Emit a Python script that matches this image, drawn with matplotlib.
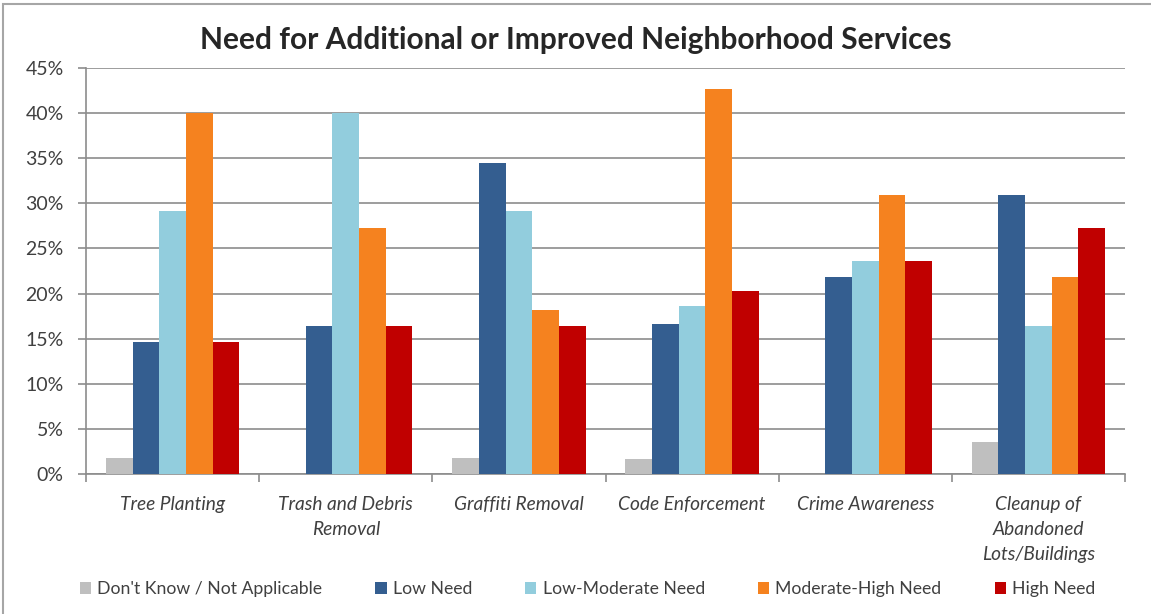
import matplotlib
matplotlib.use("Agg")
import matplotlib.pyplot as plt
import numpy as np
from matplotlib.patches import Rectangle

categories = ["Tree Planting", "Trash and Debris\nRemoval", "Graffiti Removal",
              "Code Enforcement", "Crime Awareness", "Cleanup of\nAbandoned\nLots/Buildings"]
series_names = ["Don't Know / Not Applicable", "Low Need", "Low-Moderate Need",
                "Moderate-High Need", "High Need"]
dont_know = [1.8, 0.0, 1.8, 1.7, 0.0, 3.5]
low_need = [14.6, 16.4, 34.5, 16.6, 21.8, 30.9]
low_moderate = [29.1, 40.0, 29.1, 18.6, 23.6, 16.4]
moderate_high = [40.0, 27.3, 18.2, 42.7, 30.9, 21.8]
high_need = [14.6, 16.4, 16.4, 20.3, 23.6, 27.3]
y_ticks = [0, 5, 10, 15, 20, 25, 30, 35, 40, 45]
y_tick_labels = ["0%", "5%", "10%", "15%", "20%", "25%", "30%", "35%", "40%", "45%"]

colors = ["#BFBFBF", "#345E90", "#92CDDD", "#F5821F", "#C00000"]
series = [dont_know, low_need, low_moderate, moderate_high, high_need]

W, H = 1151, 614
fig = plt.figure(figsize=(W / 100, H / 100), dpi=100)
ax = fig.add_axes([86 / W, 1 - 474 / H, (1125 - 86) / W, (474 - 68) / H])

n = len(categories)
x = np.arange(n)
bw = 1 / 6.5
for i, (vals, col, name) in enumerate(zip(series, colors, series_names)):
    offs = (i - 2) * bw
    ax.bar(x + offs, vals, width=bw, color=col, label=name, zorder=3, linewidth=0)

ax.set_xlim(-0.5, n - 0.5)
ax.set_ylim(0, 45)
ax.set_yticks(y_ticks)
ax.set_yticklabels(y_tick_labels)
grid_col = "#8C8C8C"
ax.yaxis.grid(True, color=grid_col, linewidth=1.2, zorder=0)
for s in ["top", "right"]:
    ax.spines[s].set_visible(False)
for s in ["left", "bottom"]:
    ax.spines[s].set_color(grid_col)
    ax.spines[s].set_linewidth(1.2)

ax.set_xticks(np.arange(-0.5, n, 1.0), minor=False)
ax.set_xticklabels([""] * (n + 1))
ax.tick_params(axis="x", which="major", length=6, color=grid_col, width=1.2, direction="out")
ax.set_xticks(x, minor=True)
ax.set_xticklabels(categories, minor=True, fontsize=13.8, style="italic",
                   color="#404040", family="Lato", linespacing=1.55, va="top")
ax.tick_params(axis="x", which="minor", length=0, pad=16)
ax.tick_params(axis="y", length=6, color=grid_col, width=1.2, labelsize=14,
               labelcolor="#404040", pad=10)
for lab in ax.get_yticklabels():
    lab.set_family("Lato")

fig.text(0.5, 1 - 40 / H, "Need for Additional or Improved Neighborhood Services",
         ha="center", va="center", fontsize=21.5, fontweight="bold", color="#262626",
         family="Lato")

leg = fig.legend(loc="center", bbox_to_anchor=(0.5104, 1 - 589 / H), ncol=5, frameon=False,
                 handlelength=0.65, handleheight=0.65, handletextpad=0.35,
                 columnspacing=3.0, prop={"family": "Lato", "size": 12.7})
for t in leg.get_texts():
    t.set_color("#404040")

fig.patches.append(Rectangle((3 / W, -0.05), (W - 3) / W + 0.05, 1 - 4 / H + 0.05,
                             transform=fig.transFigure, fill=False,
                             edgecolor="#A6A6A6", linewidth=1.5))

fig.savefig("out.png", dpi=100)
